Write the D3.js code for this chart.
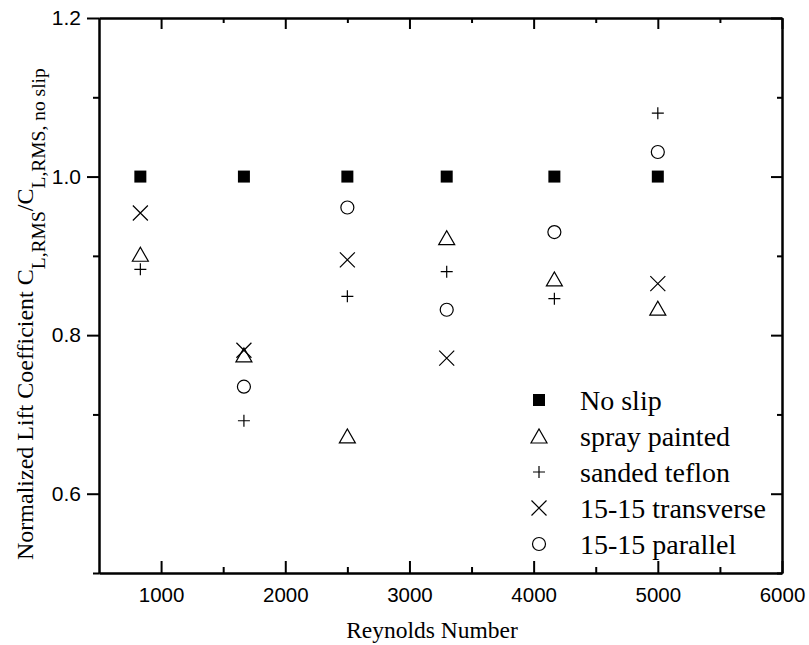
<!DOCTYPE html>
<html>
<head>
<meta charset="utf-8">
<script src="https://cdn.jsdelivr.net/npm/d3@7"></script>
<style>
  body { margin: 0; background: #fff; }
  svg { display: block; }
</style>
</head>
<body>
<div id="chart"></div>
<script>
// values
const reynolds = [833, 1667, 2500, 3300, 4167, 5000];
const noSlip = [1.0, 1.0, 1.0, 1.0, 1.0, 1.0];
const sprayPainted = [0.902, 0.775, 0.673, 0.923, 0.871, 0.834];
const sandedTeflon = [0.883, 0.692, 0.849, 0.880, 0.846, 1.080];
const transverse = [0.954, 0.781, 0.895, 0.771, null, 0.865];
const parallel = [null, 0.735, 0.961, 0.832, 0.930, 1.031];

const seriesNames = ["No slip", "spray painted", "sanded teflon", "15-15 transverse", "15-15 parallel"];
const seriesSymbols = ["square", "triangle", "plus", "cross", "circle"];
const seriesValues = [noSlip, sprayPainted, sandedTeflon, transverse, parallel];

const xMajorTicks = [1000, 2000, 3000, 4000, 5000, 6000];
const xMinorTicks = [1500, 2500, 3500, 4500, 5500];
const yMajorTicks = [0.6, 0.8, 1.0, 1.2];
const yMinorTicks = [0.5, 0.7, 0.9, 1.1];

const MARGIN = { TOP: 18, BOTTOM: 72, LEFT: 99, RIGHT: 27 };
const WIDTH = 809 - MARGIN.LEFT - MARGIN.RIGHT;
const HEIGHT = 645 - MARGIN.TOP - MARGIN.BOTTOM;

const svg = d3.select("#chart")
  .append("svg")
    .attr("width", WIDTH + MARGIN.LEFT + MARGIN.RIGHT)
    .attr("height", HEIGHT + MARGIN.TOP + MARGIN.BOTTOM)
  .append("g")
    .attr("transform", `translate(${MARGIN.LEFT}, ${MARGIN.TOP})`);

const x = d3.scaleLinear().domain([500, 6000]).range([0, WIDTH]);
const y = d3.scaleLinear().domain([0.5, 1.2]).range([HEIGHT, 0]);

// marker shapes, drawn around (0,0)
function markerPath(type) {
  switch (type) {
    case "square": return "M-6,-6H6V6H-6Z";
    case "triangle": return "M-8,7L8,7L0,-7Z";
    case "plus": return "M-6,0H6M0,-6V6";
    case "cross": return "M-7.5,-7.5L7.5,7.5M-7.5,7.5L7.5,-7.5";
    case "circle": return "M6.5,0A6.5,6.5,0,1,1,-6.5,0A6.5,6.5,0,1,1,6.5,0Z";
  }
}

function styleMarker(sel, type) {
  sel.attr("d", markerPath(type))
    .attr("fill", type === "square" ? "#000" : "none")
    .attr("stroke", "#000")
    .attr("stroke-width", type === "square" ? 0 : 1.2);
}

// axes: left ticks point out, the other three point in
function axisStyle(g) {
  g.selectAll("path.domain").attr("stroke", "#000").attr("stroke-width", 2);
  g.selectAll(".tick line").attr("stroke", "#000").attr("stroke-width", 2);
}

svg.append("g")
  .attr("transform", `translate(0, ${HEIGHT})`)
  .call(d3.axisBottom(x).tickValues(xMinorTicks).tickSizeInner(-6).tickSizeOuter(0).tickFormat(""))
  .call(axisStyle);

svg.append("g")
  .attr("transform", `translate(0, ${HEIGHT})`)
  .call(d3.axisBottom(x).tickValues(xMajorTicks).tickSizeInner(-12).tickSizeOuter(0).tickPadding(14).tickFormat(d3.format("d")))
  .call(axisStyle)
  .selectAll("text")
    .style("font", "20.5px 'Liberation Sans', Arial, sans-serif")
    .attr("fill", "#000");

svg.append("g")
  .call(d3.axisTop(x).tickValues(xMajorTicks).tickSizeInner(-11).tickSizeOuter(0).tickFormat(""))
  .call(axisStyle);
svg.append("g")
  .call(d3.axisTop(x).tickValues(xMinorTicks).tickSizeInner(-5).tickSizeOuter(0).tickFormat(""))
  .call(axisStyle);

svg.append("g")
  .call(d3.axisLeft(y).tickValues(yMinorTicks).tickSizeInner(6).tickSizeOuter(0).tickFormat(""))
  .call(axisStyle);

svg.append("g")
  .call(d3.axisLeft(y).tickValues(yMajorTicks).tickSizeInner(12).tickSizeOuter(0).tickPadding(6).tickFormat(d3.format(".1f")))
  .call(axisStyle)
  .selectAll("text")
    .style("font", "21px 'Liberation Sans', Arial, sans-serif")
    .attr("fill", "#000");

svg.append("g")
  .attr("transform", `translate(${WIDTH}, 0)`)
  .call(d3.axisRight(y).tickValues(yMajorTicks).tickSizeInner(-11).tickSizeOuter(0).tickFormat(""))
  .call(axisStyle);
svg.append("g")
  .attr("transform", `translate(${WIDTH}, 0)`)
  .call(d3.axisRight(y).tickValues(yMinorTicks).tickSizeInner(-5).tickSizeOuter(0).tickFormat(""))
  .call(axisStyle);

// axis titles
svg.append("text")
  .attr("x", 333)
  .attr("y", HEIGHT + 65)
  .attr("text-anchor", "middle")
  .style("font", "23.5px 'Liberation Serif', 'Times New Roman', serif")
  .attr("fill", "#000")
  .text("Reynolds Number");

const yTitle = svg.append("text")
  .attr("transform", "rotate(-90)")
  .attr("x", -(560 - MARGIN.TOP))
  .attr("y", 33 - MARGIN.LEFT)
  .attr("text-anchor", "start")
  .style("font", "24px 'Liberation Serif', 'Times New Roman', serif")
  .attr("fill", "#000");
yTitle.append("tspan").text("Normalized Lift Coefficient C");
yTitle.append("tspan").attr("dy", 12).style("font-size", "19.5px").text("L,RMS");
yTitle.append("tspan").attr("dy", -12).text("/C");
yTitle.append("tspan").attr("dy", 12).style("font-size", "19.5px").text("L,RMS, no slip");

// data points
seriesValues.forEach((vals, i) => {
  const pts = reynolds.map((r, j) => ({ r: r, v: vals[j] })).filter(d => d.v != null);
  svg.append("g").selectAll("path")
    .data(pts)
    .enter().append("path")
      .attr("transform", d => `translate(${x(d.r)}, ${y(d.v)})`)
      .call(styleMarker, seriesSymbols[i]);
});

// legend
const legend = svg.append("g").attr("transform", `translate(${539 - MARGIN.LEFT}, ${400 - MARGIN.TOP})`);
seriesNames.forEach((name, i) => {
  const row = legend.append("g").attr("transform", `translate(0, ${i * 36})`);
  row.append("path").call(styleMarker, seriesSymbols[i]);
  row.append("text")
    .attr("x", 41)
    .attr("y", 10)
    .style("font", "28px 'Liberation Serif', 'Times New Roman', serif")
    .attr("fill", "#000")
    .text(name);
});
</script>
</body>
</html>
